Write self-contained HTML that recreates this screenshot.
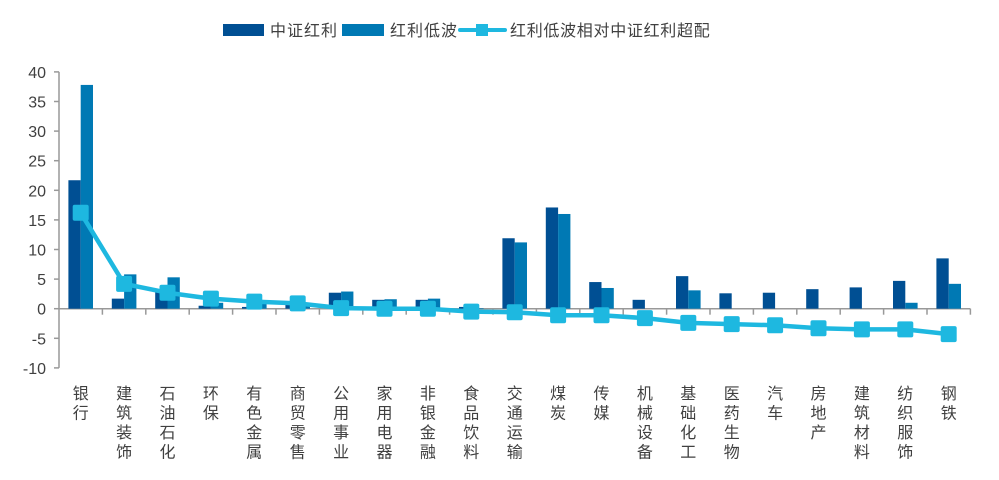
<!DOCTYPE html>
<html><head><meta charset="utf-8"><style>
html,body{margin:0;padding:0;background:#fff;}
svg text{font-family:"Liberation Sans","Noto Sans CJK SC",sans-serif;fill:#404040;}
</style></head><body>
<svg id="chart" width="999" height="475" viewBox="0 0 999 475" xmlns="http://www.w3.org/2000/svg">
<g id="legend">
 <rect x="223" y="24" width="41" height="12" fill="#004f93"/>
 <text x="270" y="36" font-size="16" letter-spacing="1">中证红利</text>
 <rect x="342" y="24" width="42" height="12" fill="#0079b4"/>
 <text x="390" y="36" font-size="16" letter-spacing="1">红利低波</text>
 <line x1="460" y1="30" x2="505" y2="30" stroke="#1eb8e0" stroke-width="4" stroke-linecap="round"/>
 <rect x="476" y="24" width="12" height="12" fill="#1eb8e0"/>
 <text x="510" y="36" font-size="16" letter-spacing="0.7">红利低波相对中证红利超配</text>
</g>
<g id="axes"></g><g id="bars"></g><g id="line"></g><g id="xlabels"></g>
</svg>
<script>
const categories=["银行","建筑装饰","石油石化","环保","有色金属","商贸零售","公用事业","家用电器","非银金融","食品饮料","交通运输","煤炭","传媒","机械设备","基础化工","医药生物","汽车","房地产","建筑材料","纺织服饰","钢铁"];
const zzhl=[21.7,1.7,2.8,0.5,0.3,0.8,2.7,1.5,1.5,0.3,11.9,17.1,4.5,1.5,5.5,2.6,2.7,3.3,3.6,4.7,8.5];
const hldb=[37.8,5.8,5.3,1.0,0.8,1.0,2.9,1.6,1.7,0.1,11.2,16.0,3.5,0,3.1,0,0,0,0,1.0,4.2];
const excess=[16.2,4.2,2.7,1.7,1.2,0.9,0.1,0.0,0.0,-0.5,-0.6,-1.1,-1.1,-1.6,-2.4,-2.6,-2.8,-3.3,-3.5,-3.5,-4.3];
const yTicks=[40,35,30,25,20,15,10,5,0,-5,-10];
const NS="http://www.w3.org/2000/svg";
const x0=59,step=43.4;
function y(v){return 308.7-v*5.92;}
function xc(i){return x0+step/2+i*step;}
function mk(tag,attrs,parent){const e=document.createElementNS(NS,tag);for(const k in attrs)e.setAttribute(k,attrs[k]);document.getElementById(parent).appendChild(e);return e;}
// axes
let e=mk('line',{x1:x0,y1:y(40),x2:x0,y2:y(-10),stroke:'#999','stroke-width':1.5},'axes');


yTicks.forEach(t=>{
 let l=mk('line',{x1:x0-5,y1:y(t),x2:x0,y2:y(t),stroke:'#999','stroke-width':1.5},'axes');
 
 
 let tx=mk('text',{x:46,y:y(t)+6,'font-size':16,'text-anchor':'end'},'axes');
 tx.textContent=t;
 
 
});
e=mk('line',{x1:x0,y1:y(0),x2:x0+categories.length*step,y2:y(0),stroke:'#999','stroke-width':1.5},'axes');


for(let i=1;i<=categories.length;i++){
 let l=mk('line',{x1:x0+i*step,y1:y(0),x2:x0+i*step,y2:y(0)+6,stroke:'#999','stroke-width':1.5},'axes');
 
 
}
// bars
categories.forEach((c,i)=>{
 const bw=12.3;
 [[zzhl,'#004f93',-bw],[hldb,'#0079b4',0]].forEach(([arr,col,off],k)=>{
  const v=arr[i];
  const r=mk('rect',{x:xc(i)+off,y:Math.min(y(v),y(0)),width:bw,height:Math.abs(y(v)-y(0)),fill:col},'bars');
  
  
 });
 const t=mk('text',{x:xc(i),'font-size':16,'text-anchor':'middle'},'xlabels');
 
 
 [...c].forEach((ch,j)=>{const ts=document.createElementNS(NS,'tspan');ts.setAttribute('x',xc(i));ts.setAttribute('y',399+j*19.5);ts.textContent=ch;t.appendChild(ts);});
});
// line
const pts=excess.map((v,i)=>xc(i)+','+y(v)).join(' ');
e=mk('polyline',{points:pts,fill:'none',stroke:'#1eb8e0','stroke-width':4.5,'stroke-linejoin':'round'},'line');


excess.forEach((v,i)=>{
 const m=mk('rect',{x:xc(i)-8,y:y(v)-8,width:16,height:16,rx:2,fill:'#1eb8e0'},'line');
 
 
});
</script>
</body></html>
